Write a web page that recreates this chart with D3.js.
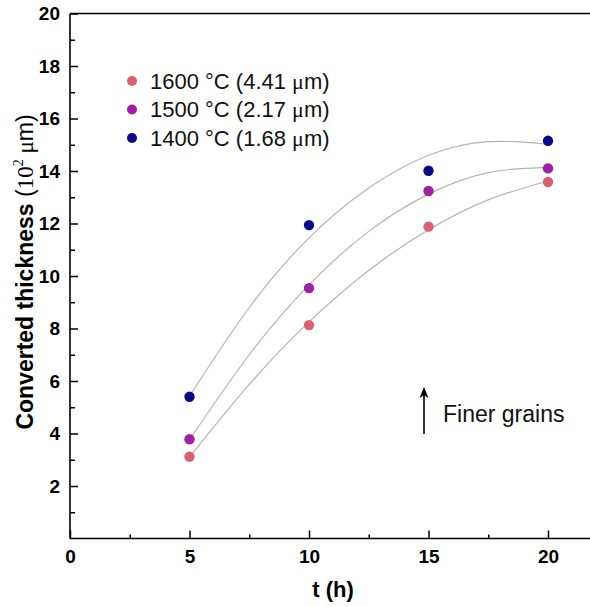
<!DOCTYPE html>
<html>
<head>
<meta charset="utf-8">
<script src="https://cdn.jsdelivr.net/npm/d3@7"></script>
<style>
  body { margin: 0; background: #fff; }
  svg { display: block; font-family: Arial, "Liberation Sans", sans-serif; }
</style>
</head>
<body>
<svg id="chart" width="590" height="607"></svg>
<script>
// measured points
const times = [5, 10, 15, 20];
const t1600 = [3.12, 8.13, 11.88, 13.58];
const t1500 = [3.78, 9.54, 13.24, 14.10];
const t1400 = [5.40, 11.94, 14.01, 15.15];

// fitted curves
const fitTimes = [5, 7.5, 10, 12.5, 15, 17.5, 20];
const fit1600 = [3.10, 5.87, 8.25, 10.21, 11.76, 12.90, 13.62];
const fit1500 = [3.76, 7.00, 9.66, 11.70, 13.12, 13.94, 14.14];
const fit1400 = [5.42, 8.80, 11.45, 13.35, 14.60, 15.12, 15.02];

const seriesNames = ['1600 °C (4.41 ', '1500 °C (2.17 ', '1400 °C (1.68 '];
const seriesColors = ['#dc5f6f', '#a01fa8', '#0a0a88'];

const xTicks = [0, 5, 10, 15, 20];
const xMinor = [2.5, 7.5, 12.5, 17.5];
const yTicks = [2, 4, 6, 8, 10, 12, 14, 16, 18, 20];
const yMinor = [1, 3, 5, 7, 9, 11, 13, 15, 17, 19];

const svg = d3.select('#chart');
const W = 590;
const mLeft = 70, mTop = 13.5, mBottom = 538.5;
const serif = '"Liberation Serif", "Times New Roman", serif';

const x = d3.scaleLinear().domain([0, 20]).range([mLeft, 548]);
const y = d3.scaleLinear().domain([0, 20]).range([mBottom, mTop]);

const series = [
  { vals: t1600, fit: fit1600 },
  { vals: t1500, fit: fit1500 },
  { vals: t1400, fit: fit1400 }
];

// axes
svg.append('g')
  .attr('transform', `translate(0,${mBottom})`)
  .call(d3.axisBottom(x).tickValues(xTicks).tickSizeInner(-8).tickSizeOuter(0).tickPadding(11));
svg.append('g')
  .attr('transform', `translate(0,${mBottom})`)
  .call(d3.axisBottom(x).tickValues(xMinor).tickSizeInner(-4).tickSizeOuter(0).tickFormat(''));
svg.append('g')
  .attr('transform', `translate(${mLeft},0)`)
  .call(d3.axisLeft(y).tickValues(yTicks).tickSizeInner(-8).tickSizeOuter(0).tickPadding(10));
svg.append('g')
  .attr('transform', `translate(${mLeft},0)`)
  .call(d3.axisLeft(y).tickValues(yMinor).tickSizeInner(-5).tickSizeOuter(0).tickFormat(''));

svg.selectAll('.domain').remove();
svg.selectAll('.tick line').attr('stroke', '#000').attr('stroke-width', 1.5);
svg.selectAll('.tick text')
  .attr('fill', '#000')
  .style('font-size', '19px')
  .style('font-weight', 'bold')
  .style('font-family', 'Arial, "Liberation Sans", sans-serif');

// frame: left, bottom, top (no right border)
const frame = svg.append('g').attr('stroke', '#000').attr('stroke-width', 1.6).attr('fill', 'none');
frame.append('line').attr('x1', mLeft).attr('x2', mLeft).attr('y1', mTop).attr('y2', mBottom);
frame.append('line').attr('x1', mLeft).attr('x2', W).attr('y1', mBottom).attr('y2', mBottom);
frame.append('line').attr('x1', mLeft).attr('x2', W).attr('y1', mTop).attr('y2', mTop);

// fit curves
const line = d3.line()
  .x((d) => x(d[0]))
  .y((d) => y(d[1]))
  .curve(d3.curveNatural);

series.forEach((s) => {
  svg.append('path')
    .datum(fitTimes.map((t, i) => [t, s.fit[i]]))
    .attr('d', line)
    .attr('fill', 'none')
    .attr('stroke', '#b4b4b4')
    .attr('stroke-width', 1.2);
});

// points
series.forEach((s, k) => {
  svg.append('g')
    .selectAll('circle')
    .data(times.map((t, i) => [t, s.vals[i]]))
    .enter()
    .append('circle')
    .attr('cx', (d) => x(d[0]))
    .attr('cy', (d) => y(d[1]))
    .attr('r', 5.2)
    .attr('fill', seriesColors[k]);
});

// legend
const legend = svg.append('g');
seriesNames.forEach((name, i) => {
  const yy = 81 + i * 28.5;
  legend.append('circle')
    .attr('cx', 132).attr('cy', yy).attr('r', 5)
    .attr('fill', seriesColors[i]);
  const txt = legend.append('text')
    .attr('x', 150).attr('y', yy + 7.5)
    .style('font-size', '22px')
    .attr('fill', '#111');
  txt.append('tspan').text(name);
  txt.append('tspan').style('font-family', serif).text('μ');
  txt.append('tspan').text('m)');
});

// annotation
svg.append('line')
  .attr('x1', 424).attr('x2', 424)
  .attr('y1', 434).attr('y2', 393)
  .attr('stroke', '#000').attr('stroke-width', 1.6);
svg.append('path')
  .attr('d', 'M424,387 L419.5,398 L424,395 L428.5,398 Z')
  .attr('fill', '#000');
svg.append('text')
  .attr('x', 443).attr('y', 422)
  .style('font-size', '23px')
  .attr('fill', '#111')
  .text('Finer grains');

// axis titles
svg.append('text')
  .attr('x', 333).attr('y', 597)
  .attr('text-anchor', 'middle')
  .style('font-size', '22px')
  .style('font-weight', 'bold')
  .text('t (h)');

const yTitle = svg.append('text')
  .attr('transform', `translate(33,${(mTop + mBottom) / 2 - 4}) rotate(-90)`)
  .attr('text-anchor', 'middle')
  .style('font-size', '23px');
yTitle.append('tspan').style('font-weight', 'bold').text('Converted thickness ');
yTitle.append('tspan').text('(');
yTitle.append('tspan').style('font-family', serif).text('10');
yTitle.append('tspan').style('font-family', serif)
  .style('font-size', '14px').attr('dy', -10).text('2');
yTitle.append('tspan').attr('dy', 10).style('font-family', serif).text(' μ');
yTitle.append('tspan').text('m)');
</script>
</body>
</html>
